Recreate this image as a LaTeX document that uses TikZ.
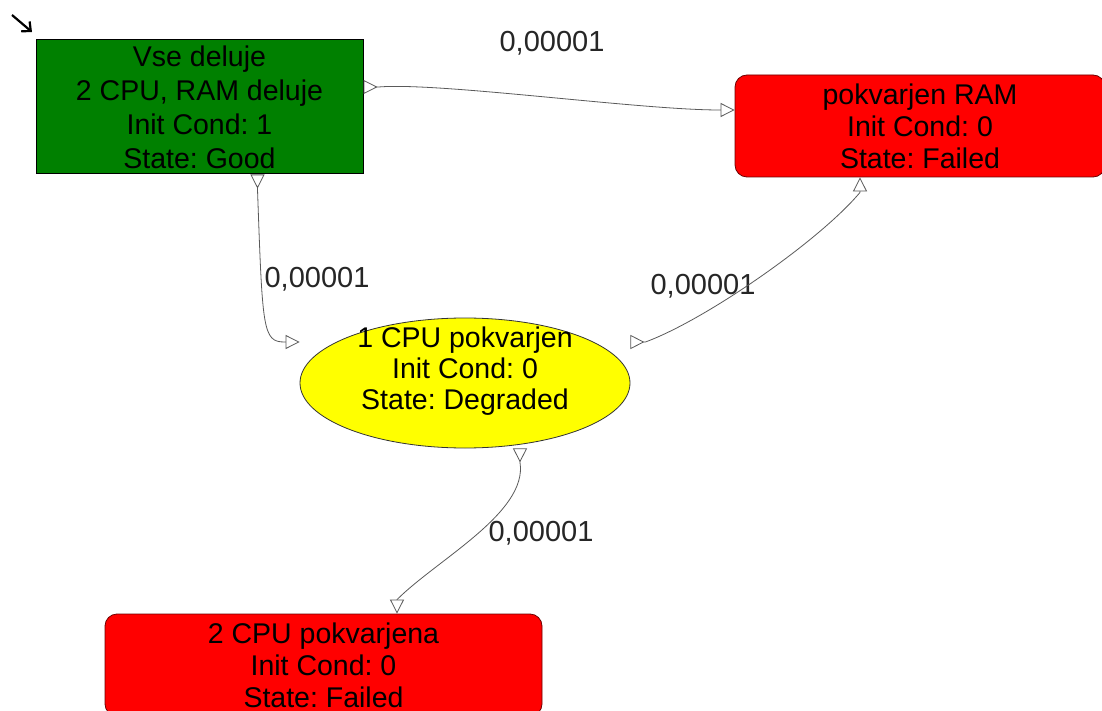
\documentclass[tikz,border=0pt]{standalone}
\usepackage{fontspec}
\setmainfont{Liberation Sans}
\usetikzlibrary{arrows.meta,shapes.geometric}
\definecolor{stgreen}{RGB}{0,128,0}
\definecolor{stred}{RGB}{255,0,0}
\definecolor{styellow}{RGB}{255,255,0}
\definecolor{edgegray}{RGB}{90,90,90}
\tikzset{
  srcT/.tip={Triangle[open,reversed,length=14pt,width=14pt]},
  dstT/.tip={Triangle[open,length=14pt,width=14pt]}
}
\frenchspacing
\begin{document}
\begin{tikzpicture}[x=1pt,y=-1pt,
  statetext/.style={font=\fontsize{28.5}{32}\selectfont\frenchspacing, align=center, text=black, inner sep=0pt},
  goodbox/.style={statetext, font=\fontsize{28.5}{34}\selectfont\frenchspacing, draw=black, line width=1pt, fill=stgreen, minimum width=327pt, minimum height=134pt},
  failbox/.style={statetext, draw={rgb,255:red,110;green,0;blue,0}, line width=0.8pt, fill=stred, rounded corners=12pt, minimum height=102pt},
  degell/.style={statetext, font=\fontsize{28.5}{31}\selectfont\frenchspacing, ellipse, draw=black!80, line width=0.8pt, fill=styellow, minimum width=330pt, minimum height=130pt},
  rate/.style={font=\fontsize{29}{34}\selectfont, inner sep=0pt, text=black!85},
  trans/.style={draw=edgegray, line width=0.8pt, srcT-dstT}
]
\clip (0,0) rectangle (1102,711);
\fill[white] (0,0) rectangle (1102,711);

% states
\node[goodbox] (good) at (199.5,107) {Vse deluje\\2 CPU, RAM deluje\\Init Cond: 1\\State: Good};
\node[failbox, minimum width=370pt] (ram) at (920,126) {pokvarjen RAM\\Init Cond: 0\\State: Failed};
\node[degell] (deg) at (465,383) {\raisebox{4pt}[30pt][30pt]{\setlength{\tabcolsep}{0pt}\begin{tabular}{c}1 CPU pokvarjen\\Init Cond: 0\\State: Degraded\end{tabular}}};
\node[failbox, minimum width=437pt] (two) at (323.5,665) {2 CPU pokvarjena\\Init Cond: 0\\State: Failed};

% rate labels
\node[rate] (r1) at (552,43) {0,00001};
\node[rate] (r2) at (317,279) {0,00001};
\node[rate] (r3) at (703,286) {0,00001};
\node[rate] (r4) at (541,533) {0,00001};

% initial-state marker
\coordinate (m1) at (12,15);
\coordinate (m2) at (32,32);
\draw[line width=2.2pt, -{Straight Barb[length=7pt,width=13pt]}] (m1) -- (m2);

% transitions
\draw[trans] ([yshift=20pt]good.east) -- ++(15,0)
  .. controls +(60,-5) and +(-80,0) .. ([xshift=-15pt,yshift=16pt]ram.west) -- ([yshift=16pt]ram.west);
\draw[trans] ([xshift=58pt]good.south) -- ++(0,15)
  .. controls +(5,140) and +(-22,0) .. ([xshift=-15pt,yshift=41pt]deg.west) -- ([yshift=41pt]deg.west);
\draw[trans] ([yshift=41pt]deg.east) -- ++(15,0)
  .. controls +(60,-22) and +(-40,48) .. ([xshift=-60pt,yshift=-15pt]ram.south) -- ([xshift=-60pt]ram.south);
\draw[trans] ([xshift=55pt]deg.south) -- ++(0,14)
  .. controls +(8,50) and +(40,-40) .. ([xshift=73.5pt,yshift=14pt]two.north) -- ([xshift=73.5pt]two.north);
\end{tikzpicture}
\end{document}
